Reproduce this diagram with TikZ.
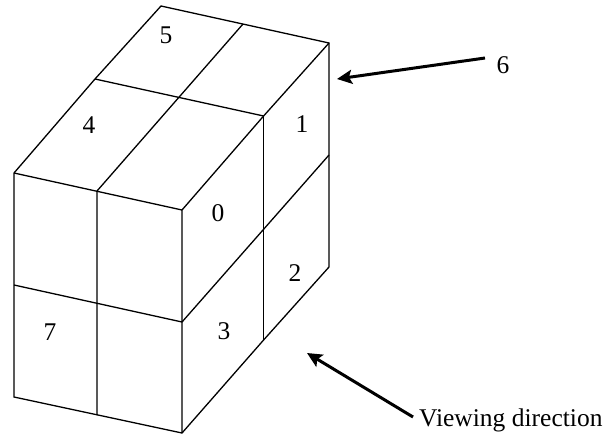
\documentclass[tikz,border=0pt]{standalone}
\usepackage{fontspec}
\setmainfont{Liberation Serif}
\usetikzlibrary{arrows.meta}
\begin{document}
\begin{tikzpicture}[x=1pt,y=-1pt,
 edge/.style={line width=1.3pt,black},
 lab/.style={font=\fontsize{25.5}{28}\selectfont,inner sep=0pt},
 arr/.style={line width=3pt,-{Stealth[length=15pt,width=14pt,inset=3pt]}}]
\useasboundingbox (0,0) rectangle (607,436);
\coordinate (A) at (14,173);
\coordinate (B) at (182,210);
\coordinate (C) at (263.6,116);
\coordinate (D) at (95,79);
\coordinate (E) at (161,6);
\coordinate (F) at (329,43);
\coordinate (G) at (329,155);
\coordinate (H) at (263.6,340);
\coordinate (I) at (182,433);
\coordinate (J) at (14,397);
\coordinate (K) at (97,191);
\coordinate (L) at (97,415);
\coordinate (M) at (14,285);
\coordinate (N) at (182,322);
\coordinate (P) at (329,267);
\coordinate (Q) at (243,24);
\draw[edge,line join=miter] (A)--(D)--(E)--(F)--(P)--(H)--(I)--(J)--cycle;
\draw[edge] (A)--(B)--(I);
\draw[edge] (B)--(C)--(F);
\draw[edge] (C)--(H);
\draw[edge] (D)--(C);
\draw[edge] (Q)--(K)--(L);
\draw[edge] (M)--(N)--(G);
\node[lab] (n5) at (166,35) {5};
\node[lab] (n4) at (89,125) {4};
\node[lab] (n1) at (302,124) {1};
\node[lab] (n0) at (218,213) {0};
\node[lab] (n2) at (295,273) {2};
\node[lab] (n3) at (224,331) {3};
\node[lab] (n7) at (50,332) {7};
\node[lab] (n6) at (503,65) {6};
\node[lab,anchor=base west] (vd) at (419,426) {Viewing direction};
\coordinate (a1) at (485,58);
\coordinate (a2) at (337,79);
\coordinate (b1) at (413,417);
\coordinate (b2) at (307,353);
\draw[arr] (a1)--(a2);
\draw[arr] (b1)--(b2);
\end{tikzpicture}
\end{document}
